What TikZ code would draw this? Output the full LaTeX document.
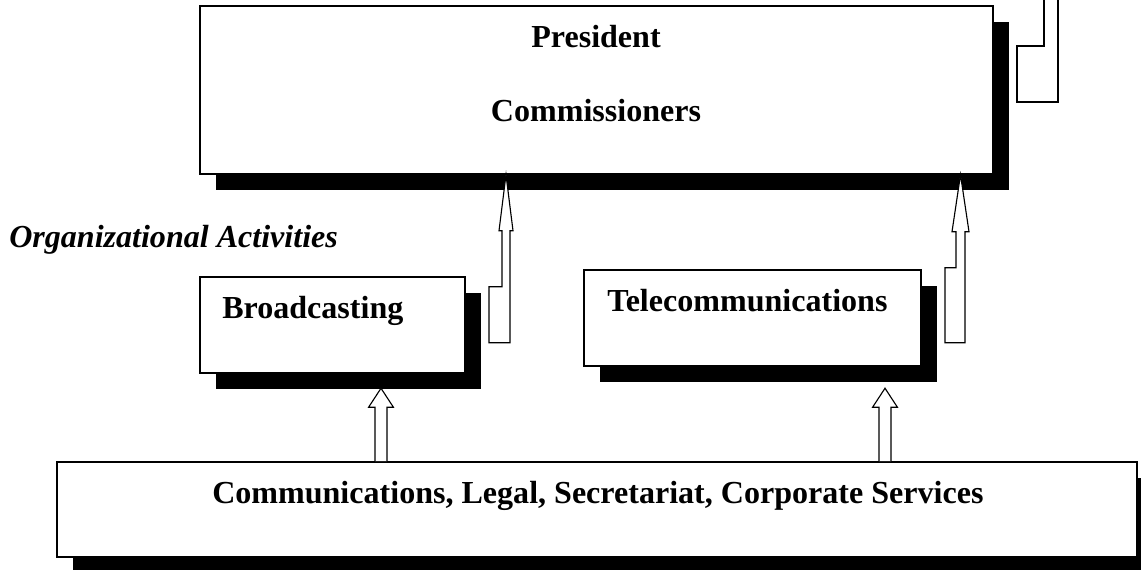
\documentclass[tikz,border=0pt]{standalone}
\usepackage{fontspec}
\setmainfont{Liberation Serif}
\usetikzlibrary{shadows, calc}

\begin{document}
\begin{tikzpicture}[
  box/.style={draw, line width=1.1pt, fill=white, rectangle, inner sep=0pt,
    drop shadow={shadow xshift=0.4cm, shadow yshift=-0.4cm, opacity=1, fill=black}},
  txt/.style={inner sep=0pt, font=\fontsize{22.8}{27}\selectfont\bfseries},
  itxt/.style={txt, font=\fontsize{22.8}{27}\selectfont\bfseries\itshape},
  hollow/.style={draw, line width=0.8pt, fill=white, line join=miter}]

\useasboundingbox (0,0) rectangle (28.525,-14.225);

% boxes
\node[box, minimum width=19.825cm, minimum height=4.2cm] (pres) at (14.9125,-2.25) {};
\node[box, minimum width=6.625cm, minimum height=2.4cm] (bcast) at (8.3125,-8.125) {};
\node[box, minimum width=8.425cm, minimum height=2.4cm] (tele) at (18.8125,-7.95) {};
\node[box, minimum width=27cm, minimum height=2.375cm] (serv) at (14.925,-12.7375) {};

% labels
\node[txt, anchor=base] (prestxt) at (14.9,-1.175) {President};
\node[txt, anchor=base] (commtxt) at (14.9,-3.025) {Commissioners};
\node[itxt, anchor=base west] (orgtxt) at (0.225,-6.175) {Organizational Activities};
\node[txt, anchor=base west] (bcasttxt) at (5.55,-7.95) {Broadcasting};
\node[txt, anchor=base west] (teletxt) at (15.175,-7.775) {Telecommunications};
\node[txt, anchor=base west] (servtxt) at (5.3,-12.575) {Communications, Legal, Secretariat, Corporate Services};

% up arrows from the services box
\foreach \x/\n in {9.525/bc, 22.125/tc}{
  \coordinate (base\n) at (\x,0 |- serv.north);
  \draw[hollow] ($(base\n)+(-0.15,0)$) -- ++(0,1.35) -- ++(-0.16,0) -- ++(0.31,0.475)
    -- ++(0.31,-0.475) -- ++(-0.16,0) -- ++(0,-1.35);
}

% stepped arrows into the top box
\coordinate (tip1) at (12.65,0 |- pres.south);
\draw[hollow] (tip1) -- ++(0.175,-1.4) -- ++(-0.075,0) -- ++(0,-2.8) -- ++(-0.525,0)
  -- ++(0,1.4) -- ++(0.325,0) -- ++(0,1.4) -- ++(-0.075,0) -- cycle;
\coordinate (tip2) at (24.0125,0 |- pres.south);
\draw[hollow] (tip2) -- ++(0.2125,-1.425) -- ++(-0.1,0) -- ++(0,-2.775) -- ++(-0.5,0)
  -- ++(0,1.875) -- ++(0.275,0) -- ++(0,0.9) -- ++(-0.1,0) -- cycle;

% stepped arrow leaving at the top
\draw[hollow] (26.1,0.5) -- (26.1,-1.15) -- (25.425,-1.15) -- (25.425,-2.55)
  -- (26.45,-2.55) -- (26.45,0.5);

\end{tikzpicture}
\end{document}
